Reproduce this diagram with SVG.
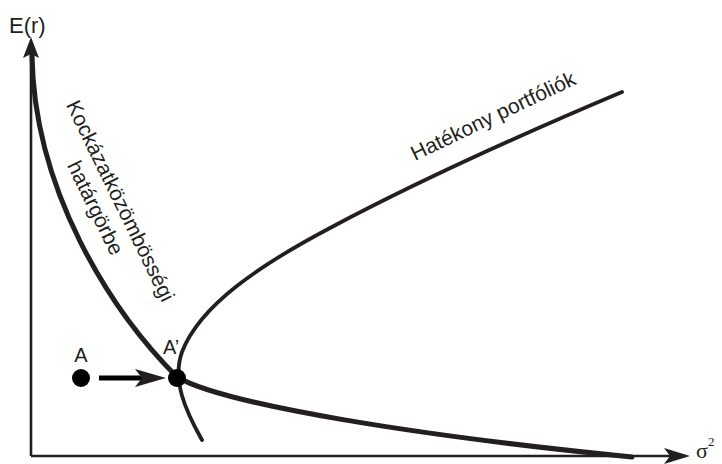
<svg xmlns="http://www.w3.org/2000/svg" width="722" height="464" viewBox="0 0 722 464">
<style>
.ax{fill:none;stroke:#231f20;stroke-width:2.6}
.curve{fill:none;stroke:#231f20;stroke-width:5;stroke-linecap:round}
.front{fill:none;stroke:#231f20;stroke-width:3.8;stroke-linecap:round}
.head{fill:#231f20;stroke:none}
.dot{fill:#000}
.lbl{font-family:"Liberation Sans",Arial,sans-serif;fill:#231f20}
.ser{font-family:"Liberation Serif","Times New Roman",serif;fill:#231f20}
</style>
<rect width="722" height="464" fill="#fff"/>
<g id="axes">
<path class="ax" d="M31,456 V50"/>
<path class="ax" d="M31,456 H675"/>
<path class="head" d="M31,37 L39,58 L31,54 L23,58 Z"/>
<path class="head" d="M690,456 L664,464 L670,456 L664,448 Z"/>
<text class="lbl" x="9" y="33" font-size="22">E(r)</text>
<text class="ser" x="696" y="458" font-size="22">σ</text>
<text class="ser" x="708" y="446" font-size="13">2</text>
</g>
<g id="indifference-curve">
<path class="curve" d="M32,55 C34,190 110,310 177,377 C225,405 420,436 632,457"/>
<text class="lbl" font-size="21" text-anchor="middle" transform="translate(114,204) rotate(64)">Kockázatközömbösségi</text>
<text class="lbl" font-size="21" text-anchor="middle" transform="translate(89,211) rotate(64)">határgörbe</text>
</g>
<g id="efficient-frontier">
<path class="front" d="M202,440 C185,410 172,380 182,352 C200,305 260,265 330,228 C420,180 520,135 622,92"/>
<text class="lbl" font-size="21" transform="translate(415,161) rotate(-25.5)">Hatékony portfóliók</text>
</g>
<g id="point-A">
<circle class="dot" cx="81" cy="378" r="9"/>
<text class="lbl" x="81" y="362" font-size="20" text-anchor="middle">A</text>
</g>
<g id="point-A-prime">
<circle class="dot" cx="177" cy="378" r="9"/>
<text class="lbl" x="163" y="354" font-size="20">A’</text>
</g>
<g id="connectors">
<path fill="none" stroke="#000" stroke-width="5" d="M99,378 H150"/>
<path class="head" fill="#000" d="M166,378 L135,387 L142,378 L135,369 Z"/>
</g>
</svg>
